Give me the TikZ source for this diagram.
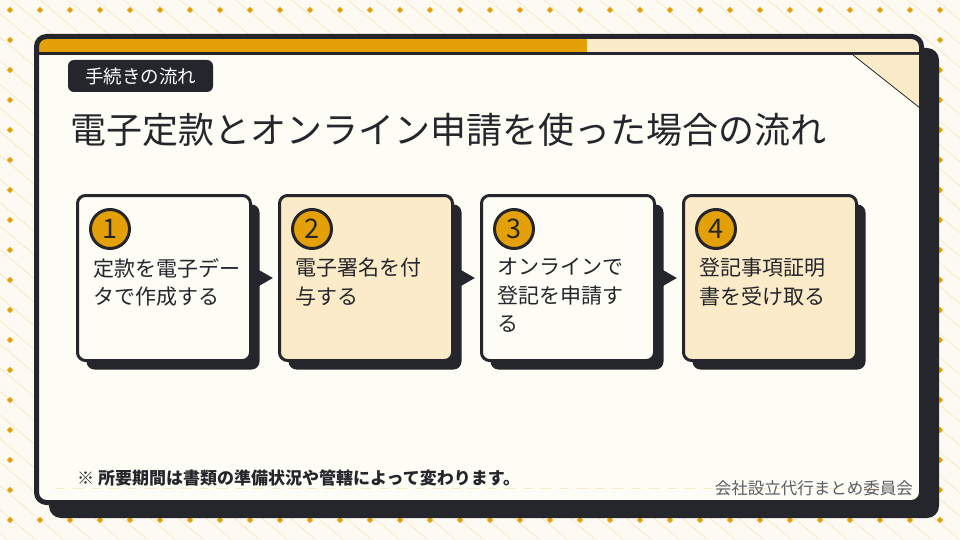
\documentclass[tikz,border=0pt]{standalone}
\usepackage{fontspec}
\setmainfont{Noto Sans CJK JP}
\usetikzlibrary{calc,shadows}

\definecolor{ink}{HTML}{24262B}
\definecolor{gold}{HTML}{E3A008}
\definecolor{pale}{HTML}{FCEBC8}
\definecolor{paper}{HTML}{FCFAF2}
\definecolor{cardbg}{HTML}{FDFCF5}
\definecolor{stripe}{HTML}{FBE8C8}
\definecolor{credit}{HTML}{5A5D63}

\begin{document}
\begin{tikzpicture}[x=1pt,y=-1pt,
	stepbox/.style={draw=ink, line width=3pt, rounded corners=8pt,
		minimum width=173pt, minimum height=165pt,
		drop shadow={shadow xshift=9pt, shadow yshift=-9pt, opacity=1, fill=ink}},
	numdot/.style={circle, draw=ink, line width=3pt, fill=gold,
		minimum size=39pt, inner sep=0pt, text=ink,
		font=\fontsize{27}{27}\selectfont},
	steptext/.style={anchor=north west, align=left, inner sep=0pt, text=ink,
		font=\fontsize{21}{28.5}\selectfont}]

	\useasboundingbox (0,0) rectangle (960,540);
	\fill[paper] (0,0) rectangle (960,540);
	
	% background
	\foreach \k in {-660,-632,...,960}
		\draw[stripe, line width=0.8pt] (\k,0) -- ++(640,540);
	\foreach \x in {10,40,...,940}
		\foreach \y in {10,40,...,520}
			\fill[gold] (\x,\y-3.2) -- (\x+3.2,\y) -- (\x,\y+3.2) -- (\x-3.2,\y) -- cycle;
	
	% card
	\fill[ink, rounded corners=12pt] (49,48) rectangle (939,518);
	\fill[cardbg, rounded corners=10pt] (36.5,36.5) rectangle (921.5,502.5);
	\begin{scope}
		\clip[rounded corners=10pt] (36.5,36.5) rectangle (921.5,502.5);
		\fill[gold] (36,36) rectangle (587,53);
		\fill[pale] (587,36) rectangle (922,53);
		\draw[ink, line width=3pt] (36,53.5) -- (922,53.5);
		\fill[pale] (853,55) -- (920,55) -- (920,108) -- cycle;
		\draw[ink, line width=0.8pt] (853,55) -- (920,108);
		\draw[stripe, line width=1pt, dash pattern=on 10pt off 8pt] (55,488) -- (905,488);
	\end{scope}
	\draw[ink, line width=5pt, rounded corners=10pt] (36.5,36.5) rectangle (921.5,502.5);
	
	\node[fill=ink, text=white, rounded corners=6pt, minimum width=145pt, minimum height=32pt,
		inner sep=0pt, font=\fontsize{18.5}{18.5}\selectfont] (tag) at (140.5,76) {手続きの流れ};
	\node[anchor=west, inner sep=0pt, text=ink, font=\fontsize{36}{36}\selectfont]
		(title) at (70,130) {電子定款とオンライン申請を使った場合の流れ};
	
	% steps
	\foreach \i/\x/\col/\txt in {1/164/cardbg/{定款を電子デー\\タで作成する},
		2/366/pale/{電子署名を付\\与する},
		3/568/cardbg/{オンラインで\\登記を申請す\\る},
		4/770/pale/{登記事項証明\\書を受け取る}}{
		\node[stepbox, fill=\col] (s\i) at (\x,278) {};
		\node[numdot] (n\i) at ($(s\i.north west)+(34,35)$) {\i};
		\node[steptext] (t\i) at ($(s\i.north west)+(17,64)$) {\txt};
	}
	\foreach \a/\b in {1/2,2/3,3/4}
		\fill[ink] ($(s\a.east)+(0,-12)$) -- ($(s\a.east)!0.8!(s\b.west)$) -- ($(s\a.east)+(0,12)$) -- cycle;
	
	\node[anchor=west, inner sep=0pt, text=ink, font=\bfseries\fontsize{17}{17}\selectfont]
		(note) at (77,478) {※ 所要期間は書類の準備状況や管轄によって変わります。};
	\node[anchor=east, inner sep=0pt, text=credit, font=\fontsize{16.5}{16.5}\selectfont]
		(credit) at (913,488) {会社設立代行まとめ委員会};

\end{tikzpicture}
\end{document}
